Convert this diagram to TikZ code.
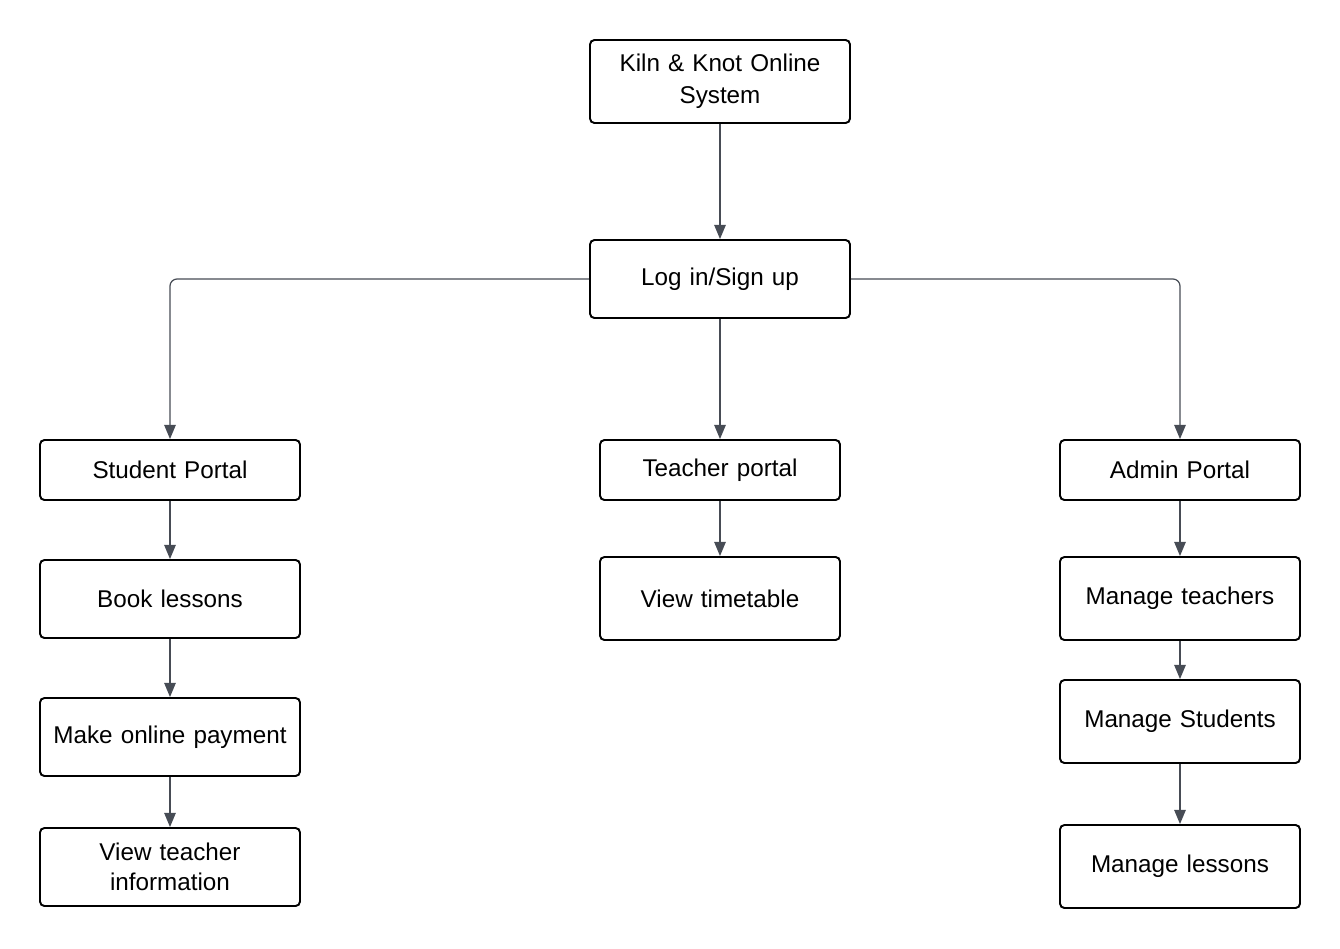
\documentclass[tikz,border=0pt]{standalone}
\usepackage{fontspec}
\setmainfont{Liberation Sans}
\usetikzlibrary{arrows.meta}

\definecolor{linegray}{HTML}{474C55}

\tikzset{
    box/.style={draw=black, line width=1.1pt, rounded corners=2.5pt,
        minimum width=5.2cm, text width=4.8cm, align=center,
        font=\fontsize{13.8}{17}\selectfont},
    wbox/.style={box, minimum width=4.8cm, text width=4.4cm},
    link/.style={draw=linegray, line width=0.7pt,
        -{Triangle[length=8pt,width=6.5pt]}, rounded corners=4pt}
}

\begin{document}
\begin{tikzpicture}[x=0.02cm,y=-0.02cm]
    \useasboundingbox (0,0) rectangle (1340,948);

    \node[box, minimum height=1.66cm] (sys) at (720,81.5) {Kiln \& Knot Online\\[1pt]System};
    \node[box, minimum height=1.56cm] (login) at (720,279) {Log in/Sign up};

    % student side
    \node[box, minimum height=1.2cm] (student) at (170,470) {Student Portal};
    \node[box, minimum height=1.56cm] (book) at (170,599) {Book lessons};
    \node[box, minimum height=1.56cm] (pay) at (170,737) {Make online payment};
    \node[box, minimum height=1.56cm] (tinfo) at (170,867) {View teacher\\information};

    % teacher side
    \node[wbox, minimum height=1.2cm] (teacher) at (720,470) {Teacher portal};
    \node[wbox, minimum height=1.66cm] (timetable) at (720,598.5) {View timetable};

    % admin side
    \node[wbox, minimum height=1.2cm] (admin) at (1180,470) {Admin Portal};
    \node[wbox, minimum height=1.66cm] (mteach) at (1180,598.5) {Manage teachers};
    \node[wbox, minimum height=1.66cm] (mstud) at (1180,721.5) {Manage Students};
    \node[wbox, minimum height=1.66cm] (mless) at (1180,866.5) {Manage lessons};

    \draw[link] (sys) -- (login);
    \draw[link] (login.west) -| (student.north);
    \draw[link] (login.east) -| (admin.north);
    \draw[link] (login) -- (teacher);

    \foreach \a/\b in {student/book,book/pay,pay/tinfo,teacher/timetable,
                       admin/mteach,mteach/mstud,mstud/mless} {
        \draw[link] (\a) -- (\b);
    }

\end{tikzpicture}
\end{document}
